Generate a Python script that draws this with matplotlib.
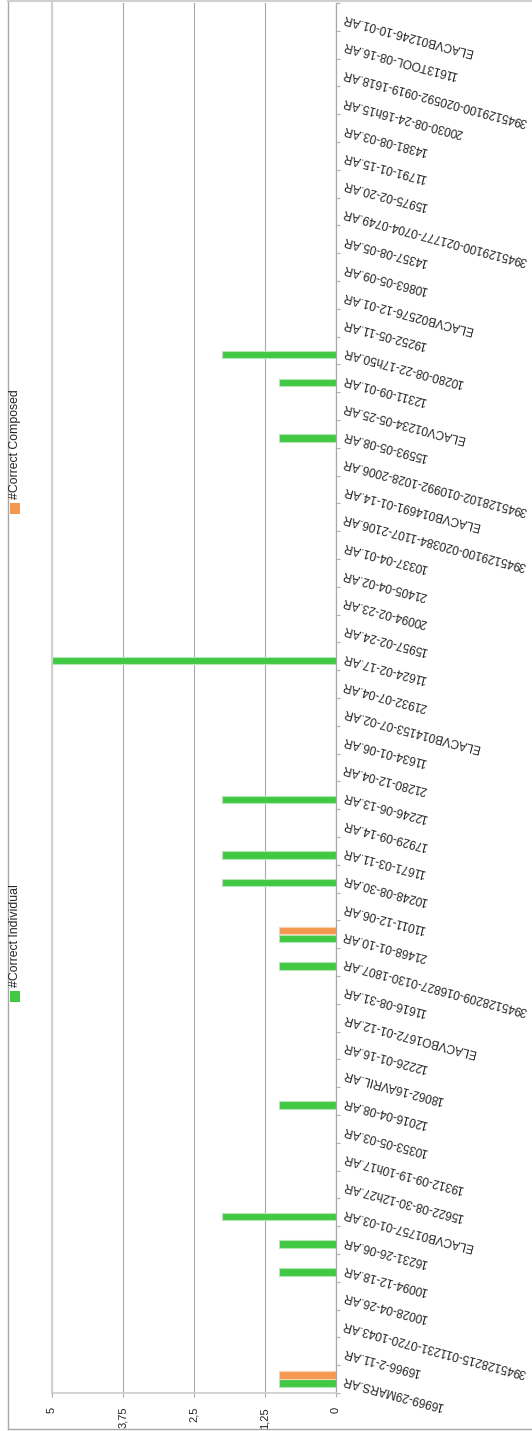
import matplotlib
matplotlib.use("Agg")
import matplotlib.pyplot as plt
from matplotlib.lines import Line2D
from matplotlib.patches import Rectangle
import numpy as np

plt.rcParams['font.family'] = ['Liberation Sans', 'DejaVu Sans']

# Categories listed from the bottom of the picture to the top
categories = [
    "16969-29MARS.AR", "16966-2-11.AR", "3945128215-011231-0720-1043.AR",
    "10028-04-26.AR", "10094-12-18.AR", "16231-26-06.AR", "ELACVB01757-01-03.AR",
    "15622-08-30-12h27.AR", "19312-09-19-10h17.AR", "10353-05-03.AR",
    "12016-04-08.AR", "18062-16AVRIL.AR", "12226-01-16.AR", "ELACVBO1672-01-12.AR",
    "11616-08-31.AR", "3945128209-016827-0130-1807.AR", "21468-01-10.AR",
    "11011-12-06.AR", "10248-08-30.AR", "11671-03-11.AR", "17929-09-14.AR",
    "12246-06-13.AR", "21280-12-04.AR", "11634-01-06.AR", "ELACVB014153-07-02.AR",
    "21932-07-04.AR", "11624-02-17.AR", "15957-02-24.AR", "20094-02-23.AR",
    "21405-04-02.AR", "10337-04-01.AR", "3945129100-020384-1107-2106.AR",
    "ELACVB014691-01-14.AR", "3945128102-010992-1028-2006.AR", "15593-05-08.AR",
    "ELACV01234-05-25.AR", "12311-09-01.AR", "10280-08-22-17h50.AR",
    "19252-05-11.AR", "ELACVB02576-12-01.AR", "10863-05-09.AR", "14357-08-05.AR",
    "3945129100-021777-0704-0749.AR", "15975-02-20.AR", "11791-01-15.AR",
    "14381-08-03.AR", "20030-08-24-16h15.AR", "3945129100-020592-0919-1618.AR",
    "11613TOOL-08-16.AR", "ELACVB01246-10-01.AR",
]

correct_individual = [
    1, 0, 0, 0, 1, 1, 2, 0, 0, 0,
    1, 0, 0, 0, 0, 1, 1, 0, 2, 2,
    0, 2, 0, 0, 0, 0, 5, 0, 0, 0,
    0, 0, 0, 0, 1, 0, 1, 2, 0, 0,
    0, 0, 0, 0, 0, 0, 0, 0, 0, 0,
]
correct_composed = [
    1, 0, 0, 0, 0, 0, 0, 0, 0, 0,
    0, 0, 0, 0, 0, 0, 1, 0, 0, 0,
    0, 0, 0, 0, 0, 0, 0, 0, 0, 0,
    0, 0, 0, 0, 0, 0, 0, 0, 0, 0,
    0, 0, 0, 0, 0, 0, 0, 0, 0, 0,
]
series_names = ["#Correct Individual", "#Correct Composed"]
value_ticks = [0, 1.25, 2.5, 3.75, 5]
value_tick_labels = ["0", "1,25", "2,5", "3,75", "5"]

GREEN = "#41c943"
ORANGE = "#f4984f"

W, H = 532, 1431
fig = plt.figure(figsize=(W / 100, H / 100), dpi=100)

ax_l, ax_r, ax_t, ax_b = 52, 336, 3, 1393
ax = fig.add_axes([ax_l / W, (H - ax_b) / H, (ax_r - ax_l) / W, (ax_b - ax_t) / H])

y = np.arange(len(categories))
bh = 0.27
off = 0.145
lw_g = [0.8 if v > 0 else 0 for v in correct_individual]
lw_o = [0.8 if v > 0 else 0 for v in correct_composed]
ax.barh(y - off, correct_individual, height=bh, color=GREEN,
        edgecolor="#b5e6b5", linewidth=lw_g, zorder=3)
ax.barh(y + off, correct_composed, height=bh, color=ORANGE,
        edgecolor="#f8d2b2", linewidth=lw_o, zorder=3)

ax.set_xlim(5, 0)
ax.set_ylim(-0.5, len(categories) - 0.5)

# value axis
ax.set_xticks(value_ticks)
ax.set_xticklabels(value_tick_labels, rotation=90, ha="center", va="top", fontsize=8)
ax.tick_params(axis="x", length=3, width=0.8, color="#a8a8a8", pad=7, labelcolor="#222222")
ax.xaxis.grid(True, color="#a8a8a8", linewidth=0.8, zorder=0)
ax.set_axisbelow(True)

# category axis on the right
ax.yaxis.tick_right()
ax.set_yticks(y)
ax.set_yticklabels(categories, fontsize=8.6, color="#222222")
for lab in ax.get_yticklabels():
    lab.set_rotation(165)
    lab.set_rotation_mode("anchor")
    lab.set_ha("right")
    lab.set_va("center")
ax.tick_params(axis="y", which="major", length=0, pad=5)
ax.set_yticks(np.arange(len(categories) + 1) - 0.5, minor=True)
ax.tick_params(axis="y", which="minor", length=3, width=0.8, color="#b0b0b0", right=True, left=False)

for s in ["top"]:
    ax.spines[s].set_visible(False)
ax.spines["left"].set_color("#d2d2d2")
ax.spines["left"].set_linewidth(1.6)
ax.spines["bottom"].set_color("#cccccc")
ax.spines["bottom"].set_linewidth(1.2)
ax.spines["right"].set_color("#a8a8a8")
ax.spines["right"].set_linewidth(0.9)

# outer frame
def px_line(x0, y0, x1, y1, color, lw):
    fig.add_artist(Line2D([x0 / W, x1 / W], [1 - y0 / H, 1 - y1 / H],
                          transform=fig.transFigure, color=color, linewidth=lw))

px_line(7.5, 0, 7.5, 1428.5, "#a8a8a8", 1.0)
px_line(7.5, 1.2, W, 1.2, "#d0d0d0", 1.5)
px_line(7.5, 1428.5, W, 1428.5, "#a8a8a8", 1.0)

# legend (rotated)
legend_items = [(series_names[0], GREEN, 991), (series_names[1], ORANGE, 503)]
for name, col, ytop in legend_items:
    fig.add_artist(Rectangle((10 / W, 1 - (ytop + 11) / H), 10 / W, 11 / H,
                             transform=fig.transFigure, facecolor=col,
                             edgecolor="none"))
    fig.text(15.5 / W, 1 - (ytop - 4) / H, name, rotation=90, ha="center",
             va="bottom", fontsize=8.8, color="#222222")

fig.savefig("out.png", dpi=100)
